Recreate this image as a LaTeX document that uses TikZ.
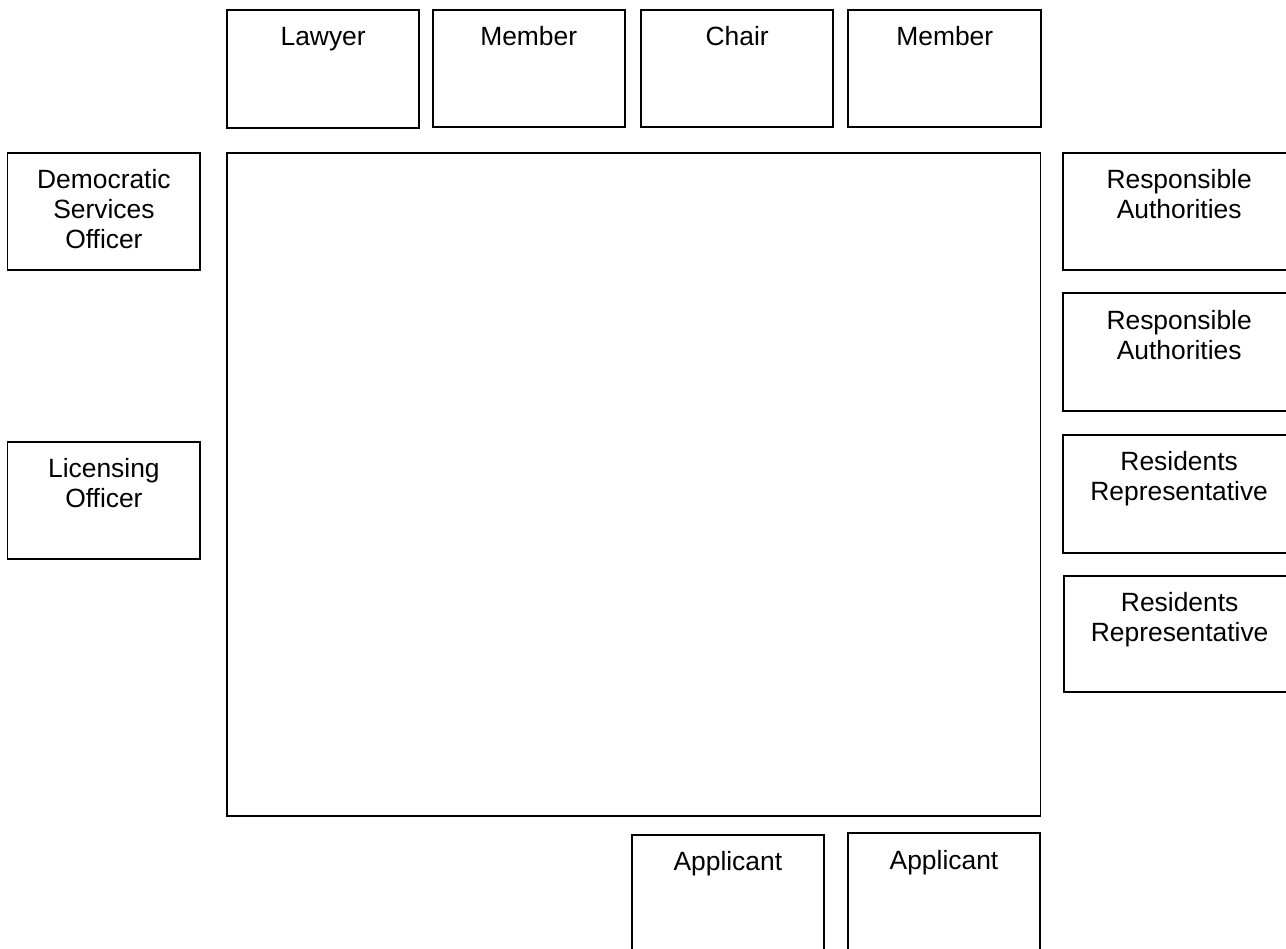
\documentclass[tikz,border=0pt]{standalone}
\usepackage{fontspec}
\setmainfont{Liberation Sans}
\usetikzlibrary{fit}
\tikzset{
    seat/.style={
        draw=black,        % 黑色边框
        line width=1.3pt,  % 线宽
        inner sep=0pt
    },
    tag/.style={
        anchor=base,
        align=center,
        inner sep=0pt,
        font=\fontsize{19.8}{22.5}\selectfont
    },
    two/.style={yshift=-22.5pt},   % 两行
    three/.style={yshift=-45pt}    % 三行
}

\begin{document}
\begin{tikzpicture}[x=0.75pt, y=-0.75pt]

\def\Dy{-27.6pt}
\useasboundingbox (0,0) rectangle (1286,949);
\clip (0,0) rectangle (1286,949);

% 上排
\node[seat, fit={(227,10) (419.3,128)}] (lawyer) {};
\node[seat, fit={(432.7,10) (624.7,127.3)}] (memberA) {};
\node[seat, fit={(641,10) (833.3,127.3)}] (chair) {};
\node[seat, fit={(848.3,9.7) (1041.3,127.3)}] (memberB) {};

% 中间的桌子
\node[seat, fit={(227,152.7) (1040.5,816)}] (table) {};

% 左边
\node[seat, fit={(7.5,152.7) (200.3,270)}] (dso) {};
\node[seat, fit={(7.5,441.7) (200.3,559)}] (licensing) {};

% 右边
\node[seat, fit={(1063.3,152.7) (1295,270)}] (raA) {};
\node[seat, fit={(1063.3,293.3) (1295,411)}] (raB) {};
\node[seat, fit={(1063.3,435) (1295,553.3)}] (rrA) {};
\node[seat, fit={(1064.3,575.7) (1295,692.3)}] (rrB) {};

% 下排
\node[seat, fit={(631.7,835) (824,960)}] (applicantA) {};
\node[seat, fit={(847.7,833.3) (1040.3,960)}] (applicantB) {};

% 文字
\node[tag] (lawyertxt) at ([yshift=\Dy]lawyer.north) {Lawyer};
\node[tag] (memberAtxt) at ([yshift=\Dy]memberA.north) {Member};
\node[tag] (chairtxt) at ([yshift=\Dy]chair.north) {Chair};
\node[tag] (memberBtxt) at ([yshift=\Dy]memberB.north) {Member};
\node[tag, three] (dsotxt) at ([yshift=\Dy]dso.north) {Democratic\\Services\\Officer};
\node[tag, two] (licensingtxt) at ([yshift=\Dy]licensing.north) {Licensing\\Officer};
\node[tag, two] (raAtxt) at ([yshift=\Dy]raA.north) {Responsible\\Authorities};
\node[tag, two] (raBtxt) at ([yshift=\Dy]raB.north) {Responsible\\Authorities};
\node[tag, two] (rrAtxt) at ([yshift=\Dy]rrA.north) {Residents\\Representative};
\node[tag, two] (rrBtxt) at ([yshift=\Dy]rrB.north) {Residents\\Representative};
\node[tag] (applicantAtxt) at ([yshift=\Dy]applicantA.north) {Applicant};
\node[tag] (applicantBtxt) at ([yshift=\Dy]applicantB.north) {Applicant};

\end{tikzpicture}
\end{document}
